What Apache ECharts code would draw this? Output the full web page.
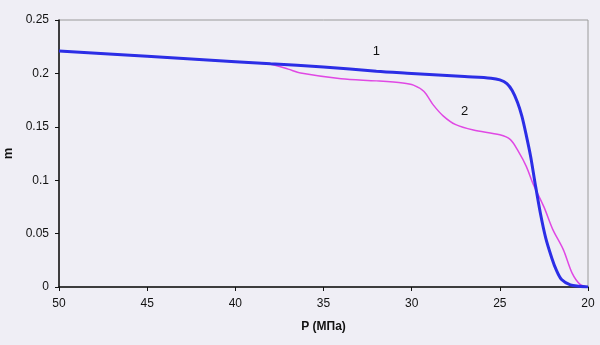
<!DOCTYPE html>
<html><head><meta charset="utf-8">
<script src="https://cdn.jsdelivr.net/npm/echarts@6/dist/echarts.min.js"></script>
<style>html,body{margin:0;padding:0;background:#efeef5;}#c{width:600px;height:345px;}</style>
</head><body><div id="c"></div>
<script>
const xTicks = [50, 45, 40, 35, 30, 25, 20];
const yTicks = [0, 0.05, 0.1, 0.15, 0.2, 0.25];
const curve1P = [50, 45, 40, 38, 35, 32, 30, 27, 25.5, 25, 24.6, 24.3, 24.0, 23.75, 23.5, 23.25, 23.0, 22.7, 22.4, 22.05, 21.8, 21.5, 21.0, 20.5, 20];
const curve1M = [0.221, 0.216, 0.211, 0.209, 0.206, 0.202, 0.200, 0.197, 0.1955, 0.194, 0.1905, 0.184, 0.173, 0.160, 0.142, 0.122, 0.097, 0.069, 0.046, 0.027, 0.016, 0.007, 0.002, 0.0008, 0];
const curve2P = [50, 45, 40, 38, 37, 36.3, 34, 32, 30.5, 29.9, 29.3, 28.8, 28.2, 27.5, 26.5, 25, 24.4, 23.95, 23.5, 23.1, 22.5, 22.0, 21.4, 20.9, 20.45, 20];
const curve2M = [0.221, 0.216, 0.211, 0.2085, 0.204, 0.2003, 0.195, 0.193, 0.191, 0.189, 0.183, 0.171, 0.160, 0.152, 0.147, 0.1425, 0.138, 0.127, 0.113, 0.096, 0.075, 0.054, 0.035, 0.013, 0.0025, 0];
const labels = [{name: '1', P: 32, m: 0.221}, {name: '2', P: 27, m: 0.164}];

const chart = echarts.init(document.getElementById('c'));
const font = 'Liberation Sans, Arial, sans-serif';
chart.setOption({
  backgroundColor: '#efeef5',
  animation: false,
  grid: {left: 59, right: 12, top: 20, bottom: 58, containLabel: false, outerBoundsMode: 'none',
         show: true, borderColor: '#9a9a9a', borderWidth: 1},
  xAxis: {
    type: 'value', inverse: true, min: 20, max: 50, interval: 5,
    name: 'P (МПа)', nameLocation: 'middle', nameGap: 34,
    nameTextStyle: {fontFamily: font, fontSize: 12, fontWeight: 'bold', color: '#111'},
    axisLine: {lineStyle: {color: '#111', width: 1.5}},
    axisTick: {show: true, length: 4, lineStyle: {color: '#111'}},
    axisLabel: {fontFamily: font, fontSize: 12, color: '#111', margin: 11},
    splitLine: {show: false}
  },
  yAxis: {
    type: 'value', min: 0, max: 0.25, interval: 0.05,
    name: 'm', nameLocation: 'middle', nameGap: 27, nameRotate: 90,
    nameTextStyle: {fontFamily: font, fontSize: 13, fontWeight: 'bold', color: '#111'},
    axisLine: {show: true, lineStyle: {color: '#111', width: 1.5}},
    axisTick: {show: true, length: 4, lineStyle: {color: '#111'}},
    axisLabel: {fontFamily: font, fontSize: 12, color: '#111', margin: 10},
    splitLine: {show: false}
  },
  series: [
    {
      type: 'line', name: '2', showSymbol: false, smooth: 0.3,
      data: curve2P.map((p, i) => [p, curve2M[i]]),
      lineStyle: {color: '#e048e4', width: 1.5}, z: 2
    },
    {
      type: 'line', name: '1', showSymbol: false, smooth: 0.3,
      data: curve1P.map((p, i) => [p, curve1M[i]]),
      lineStyle: {color: '#2c2ee6', width: 3}, z: 3,
      markPoint: {
        symbol: 'circle', symbolSize: 0,
        label: {show: true, position: 'inside', fontFamily: font, fontSize: 13, color: '#111', formatter: p => p.name},
        data: labels.map(l => ({name: l.name, coord: [l.P, l.m]}))
      }
    }
  ]
});
</script></body></html>
